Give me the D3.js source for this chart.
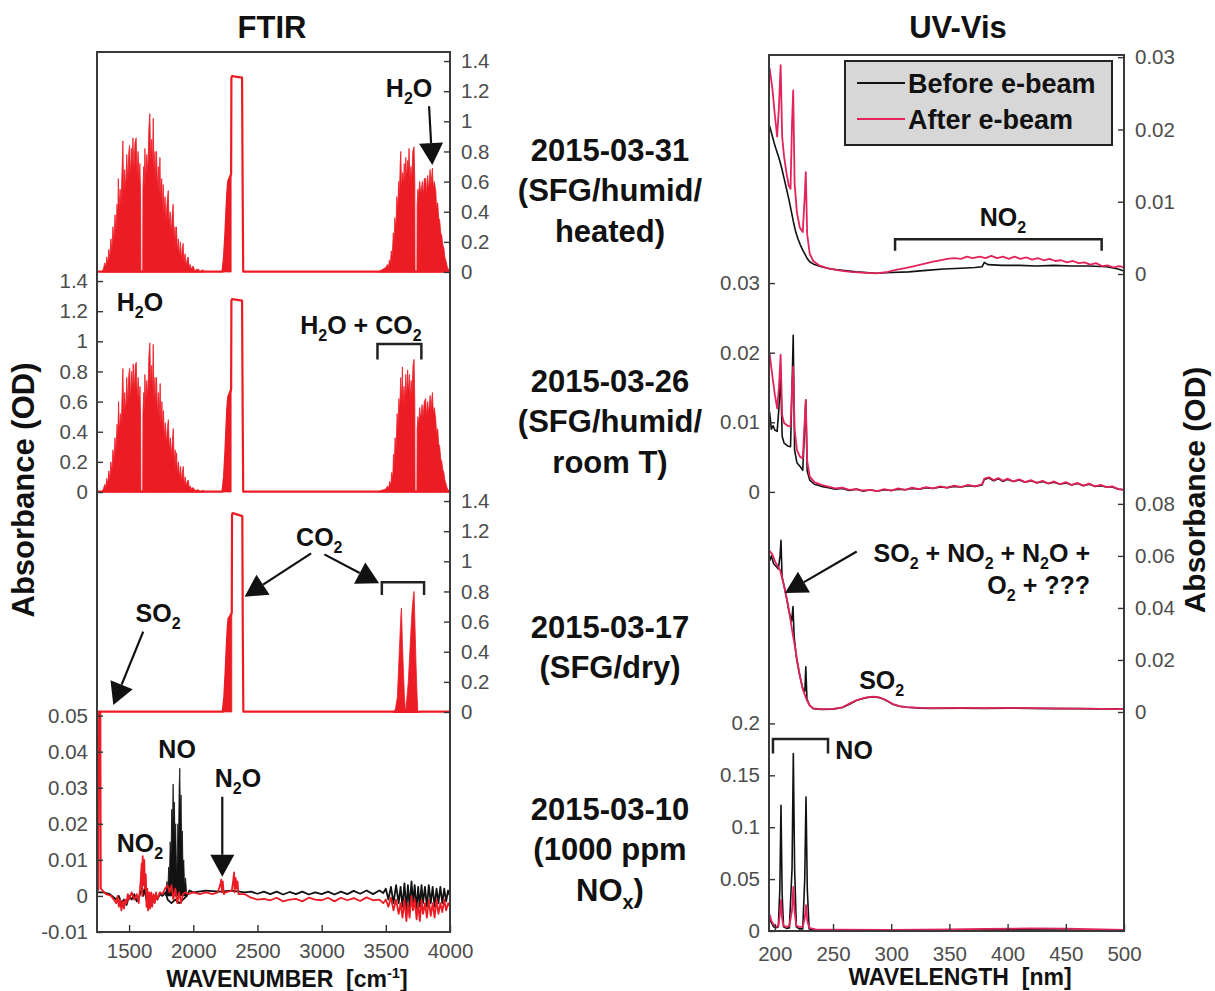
<!DOCTYPE html>
<html>
<head>
<meta charset="utf-8">
<script src="https://cdn.jsdelivr.net/npm/d3@7"></script>
<style>
  body { margin: 0; background: #fff; }
  svg text { font-family: "Liberation Sans", Arial, Helvetica, sans-serif; }
</style>
</head>
<body>
<svg id="fig" width="1215" height="991"></svg>
<script>
// ---------------- tick values ----------------
const ftirTicksX = [1500, 2000, 2500, 3000, 3500, 4000];
const ftirTicksY = [0, 0.2, 0.4, 0.6, 0.8, 1, 1.2, 1.4];
const ftirTicksYSmall = [-0.01, 0, 0.01, 0.02, 0.03, 0.04, 0.05];
const uvTicksX = [200, 250, 300, 350, 400, 450, 500];
const uvTicksY03 = [0, 0.01, 0.02, 0.03];
const uvTicksY08 = [0, 0.02, 0.04, 0.06, 0.08];
const uvTicksY20 = [0, 0.05, 0.1, 0.15, 0.2];

// ---------------- sample labels ----------------
const sampleDates = ["2015-03-31", "2015-03-26", "2015-03-17", "2015-03-10"];
const sampleConditions = [["(SFG/humid/", "heated)"], ["(SFG/humid/", "room T)"], ["(SFG/dry)"], ["(1000 ppm", "NO_x)"]];
const legendLabels = ["Before e-beam", "After e-beam"];

// ---------------- FTIR spectra: [wavenumber cm-1, absorbance OD] ----------------
// 2015-03-31 (humid, heated)
const ftir0331_h2oBend = [[1285,0],[1300,0.02],[1310,0.06],[1318,0.03],[1326,0.1],[1334,0.05],[1342,0.15],[1350,0.09],[1358,0.22],[1366,0.14],[1374,0.3],[1382,0.2],[1390,0.38],[1398,0.27],[1406,0.45],[1412,0.36],[1416,0.62],[1422,0.42],[1430,0.55],[1438,0.45],[1446,0.7],[1452,0.87],[1458,0.5],[1466,0.68],[1474,0.55],[1482,0.78],[1490,0.6],[1498,0.8],[1504,0.84],[1510,0.62],[1518,0.82],[1524,0.7],[1530,0.89],[1538,0.68],[1546,0.86],[1555,0.89],[1562,0.65],[1570,0.8],[1578,0.6],[1584,0.72],[1590,0.5],[1592,0],[1606,0],[1608,0.55],[1614,0.7],[1618,0.55],[1623,0.82],[1630,0.62],[1638,0.78],[1646,0.66],[1654,0.95],[1662,1.05],[1668,0.72],[1676,0.88],[1682,0.7],[1688,1.02],[1694,0.66],[1702,0.8],[1708,0.6],[1714,0.8],[1720,0.55],[1728,0.7],[1734,0.5],[1740,0.76],[1746,0.48],[1754,0.62],[1760,0.42],[1766,0.58],[1772,0.38],[1780,0.5],[1788,0.34],[1796,0.46],[1805,0.54],[1812,0.3],[1820,0.4],[1828,0.26],[1836,0.38],[1843,0.45],[1850,0.22],[1858,0.3],[1864,0.18],[1869,0.3],[1876,0.14],[1884,0.22],[1892,0.1],[1900,0.2],[1908,0.08],[1914,0.15],[1921,0.19],[1928,0.06],[1936,0.12],[1944,0.04],[1952,0.08],[1960,0.1],[1968,0.03],[1976,0.05],[1984,0.02],[1999,0.04],[2010,0.01],[2040,0.02],[2050,0],[2076,0.015],[2082,0]];
const ftir0331_h2oStretch = [[3440,0],[3460,0.01],[3480,0.02],[3500,0.03],[3512,0.05],[3520,0.03],[3528,0.08],[3536,0.05],[3542,0.14],[3550,0.1],[3558,0.26],[3564,0.18],[3570,0.36],[3578,0.28],[3586,0.5],[3592,0.4],[3600,0.6],[3606,0.5],[3612,0.72],[3617,0.8],[3622,0.55],[3630,0.66],[3636,0.58],[3644,0.72],[3650,0.6],[3656,0.76],[3662,0.62],[3670,0.74],[3676,0.68],[3681,0.82],[3688,0.62],[3696,0.7],[3702,0.6],[3710,0.8],[3720,0.83],[3726,0.6],[3728,0],[3742,0],[3744,0.45],[3750,0.55],[3756,0.5],[3764,0.6],[3772,0.52],[3785,0.6],[3792,0.5],[3800,0.62],[3811,0.62],[3818,0.52],[3826,0.64],[3834,0.55],[3845,0.68],[3852,0.58],[3863,0.69],[3870,0.55],[3878,0.6],[3889,0.54],[3896,0.42],[3904,0.46],[3912,0.36],[3920,0.34],[3928,0.26],[3936,0.24],[3944,0.18],[3952,0.16],[3960,0.1],[3970,0.07],[3980,0.03],[3993,0.01],[4000,0]];
const ftir0331_trace = [[1250,0.002],[2228,0.002],[2240,0.1],[2250,0.25],[2258,0.4],[2265,0.52],[2272,0.6],[2285,0.63],[2295,0.65],[2297,1.29],[2302,1.3],[2380,1.29],[2385,0.5],[2389,0.002],[4000,0.002]];

// 2015-03-26 (humid, room T)
const ftir0326_h2oBend = [[1285,0],[1300,0.02],[1310,0.05],[1318,0.03],[1326,0.09],[1334,0.05],[1342,0.14],[1350,0.08],[1358,0.2],[1366,0.13],[1374,0.28],[1382,0.2],[1390,0.36],[1398,0.26],[1406,0.45],[1412,0.35],[1418,0.6],[1424,0.4],[1432,0.52],[1440,0.44],[1447,0.7],[1452,0.82],[1458,0.5],[1466,0.66],[1474,0.52],[1482,0.76],[1490,0.58],[1498,0.78],[1505,0.82],[1512,0.6],[1520,0.8],[1526,0.68],[1532,0.85],[1540,0.66],[1548,0.84],[1556,0.86],[1563,0.62],[1571,0.76],[1579,0.58],[1585,0.7],[1590,0.48],[1592,0],[1606,0],[1608,0.52],[1614,0.66],[1618,0.52],[1623,0.78],[1630,0.6],[1638,0.74],[1646,0.62],[1654,0.9],[1662,0.99],[1668,0.7],[1676,0.84],[1682,0.66],[1688,0.98],[1694,0.62],[1702,0.76],[1708,0.56],[1714,0.76],[1720,0.52],[1728,0.66],[1734,0.48],[1742,0.72],[1748,0.46],[1756,0.6],[1762,0.4],[1768,0.54],[1774,0.36],[1782,0.46],[1790,0.32],[1798,0.42],[1806,0.48],[1813,0.28],[1821,0.36],[1829,0.24],[1837,0.34],[1844,0.42],[1851,0.2],[1859,0.28],[1865,0.16],[1870,0.26],[1877,0.12],[1885,0.2],[1893,0.09],[1901,0.17],[1909,0.07],[1915,0.13],[1922,0.17],[1929,0.05],[1937,0.1],[1945,0.04],[1953,0.07],[1961,0.08],[1969,0.03],[1977,0.04],[1985,0.02],[2000,0.03],[2012,0.01],[2040,0.015],[2052,0],[2078,0.012],[2084,0]];
const ftir0326_h2oStretch = [[3440,0],[3462,0.01],[3482,0.015],[3500,0.02],[3514,0.04],[3522,0.02],[3530,0.07],[3538,0.04],[3546,0.13],[3554,0.09],[3560,0.25],[3566,0.17],[3572,0.36],[3580,0.28],[3588,0.52],[3594,0.42],[3602,0.62],[3608,0.52],[3616,0.76],[3624,0.6],[3629,0.83],[3634,0.58],[3642,0.7],[3648,0.6],[3656,0.78],[3662,0.62],[3670,0.81],[3676,0.66],[3684,0.78],[3690,0.62],[3698,0.74],[3704,0.64],[3712,0.84],[3720,0.88],[3726,0.6],[3728,0],[3742,0],[3744,0.42],[3750,0.5],[3756,0.44],[3764,0.56],[3772,0.48],[3782,0.58],[3790,0.5],[3800,0.6],[3810,0.62],[3818,0.5],[3826,0.6],[3834,0.52],[3845,0.64],[3852,0.55],[3863,0.66],[3870,0.52],[3878,0.56],[3889,0.48],[3896,0.38],[3904,0.42],[3912,0.32],[3920,0.3],[3928,0.22],[3936,0.2],[3944,0.15],[3952,0.13],[3960,0.08],[3970,0.05],[3980,0.02],[3993,0.01],[4000,0]];
const ftir0326_trace = [[1250,0.002],[2228,0.002],[2240,0.1],[2250,0.26],[2258,0.42],[2265,0.55],[2272,0.63],[2285,0.66],[2295,0.68],[2297,1.27],[2302,1.28],[2380,1.27],[2385,0.5],[2389,0.002],[4000,0.002]];

// 2015-03-17 (dry)
const ftir0317_co2Comb = [[3560,0],[3575,0.02],[3590,0.1],[3600,0.3],[3610,0.5],[3618,0.65],[3622,0.69],[3628,0.5],[3636,0.3],[3645,0.1],[3652,0.02],[3656,0],[3660,0.05],[3675,0.2],[3690,0.45],[3705,0.68],[3716,0.78],[3720,0.8],[3728,0.55],[3736,0.3],[3744,0.1],[3750,0]];
const ftir0317_trace = [[1250,0.002],[2230,0.002],[2242,0.1],[2252,0.26],[2260,0.42],[2268,0.55],[2275,0.62],[2290,0.64],[2300,0.66],[2302,1.31],[2308,1.32],[2382,1.3],[2386,0.5],[2390,0.002],[3560,0.002],[3575,-0.006],[3750,-0.006],[3760,0.002],[4000,0.002]];

// the filled CO2 shoulder below the saturated band, per sample
const co2ShoulderRanges = [[2228, 2295], [2228, 2295], [2230, 2300]];

// 2015-03-10 (1000 ppm NOx)
const ftir0310_after = [[1250,0.001],[1262,0.002],[1266,0.06],[1276,0.06],[1280,0.002],[1320,0.0005],[1360,0],[1380,-0.001],[1400,-0.002],[1410,0],[1420,-0.003],[1430,-0.001],[1440,-0.004],[1450,-0.0015],[1460,-0.0035],[1470,-0.001],[1480,-0.002],[1490,0.0005],[1500,-0.001],[1520,0.001],[1540,-0.001],[1560,0.0005],[1575,-0.002],[1590,0.004],[1598,0.009],[1602,0],[1606,0.011],[1612,0.003],[1618,0.01],[1624,0.002],[1630,0.006],[1636,-0.003],[1642,0.002],[1648,-0.004],[1656,0.001],[1664,-0.0035],[1672,0.001],[1680,-0.003],[1690,0.0005],[1700,-0.002],[1710,0.001],[1720,-0.001],[1740,0.001],[1760,0.0005],[1780,0.002],[1800,0.003],[1815,0.001],[1830,0.003],[1845,-0.001],[1860,0.002],[1875,-0.002],[1890,0.001],[1905,-0.002],[1920,0.0005],[1940,0.001],[1960,0.0005],[2000,0.001],[2050,0.0005],[2100,0.001],[2150,0.0005],[2190,0.001],[2200,0.002],[2210,0.003],[2218,0.0045],[2224,0.001],[2230,0.004],[2238,0.0005],[2250,0.001],[2300,0.0015],[2310,0.004],[2318,0.0065],[2322,0.001],[2330,0.005],[2338,0.002],[2345,0.004],[2352,0.0005],[2400,0.0005],[2450,-0.0005],[2500,-0.001],[2550,-0.0008],[2600,-0.0012],[2650,-0.0005],[2700,-0.0015],[2750,-0.001],[2800,-0.0008],[2850,-0.0015],[2900,-0.0005],[2950,-0.001],[3000,-0.0012],[3050,-0.0005],[3100,-0.0015],[3150,-0.0005],[3200,-0.0012],[3250,-0.0006],[3300,-0.0014],[3350,-0.0004],[3400,-0.0012],[3450,-0.001],[3480,-0.002],[3500,-0.001],[3520,-0.003],[3540,-0.0005],[3560,-0.004],[3580,-0.001],[3600,-0.005],[3615,-0.002],[3630,-0.006],[3645,-0.001],[3660,-0.007],[3672,-0.002],[3685,-0.006],[3700,0],[3712,-0.004],[3725,-0.001],[3740,-0.0065],[3752,-0.002],[3765,-0.007],[3778,-0.001],[3790,-0.005],[3805,-0.002],[3820,-0.006],[3835,-0.001],[3850,-0.0055],[3865,-0.002],[3880,-0.006],[3895,-0.001],[3910,-0.005],[3925,-0.002],[3940,-0.0045],[3955,-0.001],[3970,-0.004],[3985,-0.002],[4000,-0.003]];
const ftir0310_before = [[1250,0.001],[1300,0.001],[1350,0.0005],[1400,-0.001],[1420,0],[1440,-0.002],[1460,-0.001],[1480,-0.0025],[1500,0],[1520,-0.001],[1540,0.0005],[1560,-0.0015],[1580,0],[1600,0.002],[1610,0],[1620,0.002],[1640,-0.002],[1660,0],[1680,-0.002],[1700,0],[1720,-0.001],[1740,0.0005],[1760,0],[1785,0.001],[1800,-0.001],[1830,-0.002],[1860,-0.001],[1890,-0.002],[1920,-0.001],[1950,0],[1970,0.0015],[2000,0.001],[2100,0.0015],[2200,0.0012],[2300,0.0015],[2400,0.001],[2450,0.0012],[2500,0.0006],[2550,0.0012],[2600,0.0005],[2650,0.0012],[2700,0.0004],[2750,0.0011],[2800,0.0005],[2850,0.0012],[2900,0.0004],[2950,0.001],[3000,0.0005],[3050,0.0012],[3100,0.0004],[3150,0.0012],[3200,0.0005],[3250,0.0014],[3300,0.0006],[3350,0.0015],[3400,0.0005],[3450,0.0015],[3480,0.0008],[3500,0.002],[3520,-0.001],[3540,0.0025],[3560,-0.002],[3580,0.003],[3600,-0.002],[3615,0.0025],[3630,-0.003],[3645,0.0035],[3660,-0.004],[3672,0.003],[3685,-0.003],[3700,0.004],[3712,-0.002],[3725,0.003],[3740,-0.004],[3752,0.0025],[3765,-0.003],[3778,0.003],[3790,-0.002],[3805,0.0025],[3820,-0.003],[3835,0.003],[3850,-0.002],[3865,0.0025],[3880,-0.003],[3895,0.002],[3910,-0.002],[3925,0.0025],[3940,-0.002],[3955,0.002],[3970,-0.0015],[3985,0.0015],[4000,0]];
const ftir0310_noBand = [[1785,0],[1795,0.004],[1802,0.002],[1808,0.008],[1814,0.005],[1820,0.015],[1826,0.01],[1832,0.024],[1837,0.018],[1843,0.031],[1848,0.02],[1853,0.026],[1858,0.015],[1863,0.02],[1868,0.01],[1872,0.006],[1876,0.012],[1880,0.02],[1885,0.015],[1890,0.03],[1895,0.0354],[1900,0.022],[1905,0.028],[1910,0.014],[1915,0.018],[1920,0.008],[1926,0.01],[1932,0.003],[1940,0.005],[1950,0]];

// ---------------- UV-Vis spectra: [wavelength nm, absorbance OD] ----------------
const uv0331_before = [[195.5,0.0205],[198,0.019],[200,0.0178],[202,0.0168],[204,0.0158],[206,0.0146],[208,0.0132],[210,0.0118],[212,0.0104],[214,0.0088],[216,0.0072],[218,0.0058],[220,0.0048],[222,0.004],[224,0.0033],[226,0.0027],[228,0.0021],[230,0.0017],[234,0.0013],[240,0.001],[248,0.0007],[258,0.0005],[270,0.0003],[287,0.0001],[300,0.0002],[315,0.0003],[330,0.0005],[345,0.0007],[360,0.0008],[372,0.0009],[378,0.001],[380,0.0016],[383,0.0013],[395,0.0012],[410,0.0012],[425,0.0011],[440,0.0012],[455,0.0011],[470,0.0011],[485,0.001],[495,0.0007],[500,0.0004]];
const uv0331_after = [[195.5,0.0285],[198,0.0255],[200,0.022],[202,0.019],[203.5,0.023],[205,0.0289],[206.3,0.019],[208,0.0162],[210,0.014],[212,0.0122],[213.5,0.0118],[214.8,0.021],[215.8,0.0254],[217,0.0125],[219,0.0085],[221.5,0.0064],[224,0.0058],[225.6,0.0105],[226.6,0.0141],[227.8,0.0055],[230,0.0028],[233,0.0018],[238,0.0012],[245,0.0008],[255,0.0005],[265,0.0003],[275,0.0002],[287,0.0001],[297,0.0003],[305,0.0006],[312,0.0008],[320,0.0011],[328,0.0014],[336,0.0017],[342,0.0019],[348,0.0021],[354,0.0022],[360,0.0021],[365,0.0024],[370,0.0022],[376,0.0024],[381,0.0022],[386,0.0025],[391,0.0022],[396,0.0024],[401,0.0021],[406,0.0024],[411,0.0021],[416,0.0023],[421,0.002],[426,0.0022],[431,0.0019],[436,0.0021],[441,0.0018],[446,0.0019],[451,0.0016],[456,0.0018],[461,0.0015],[466,0.0016],[471,0.0013],[476,0.0015],[481,0.0011],[486,0.0012],[491,0.0009],[496,0.0011],[500,0.0009]];
const uv0326_before = [[195.5,0.0115],[197,0.009],[198.5,0.0095],[200,0.0089],[202,0.0087],[203.5,0.012],[205,0.017],[206.3,0.008],[208,0.007],[211,0.0066],[213.5,0.0065],[214.8,0.015],[215.8,0.0225],[217,0.006],[219,0.0042],[221.5,0.0037],[224,0.0031],[225.6,0.009],[226.6,0.0132],[227.8,0.003],[230,0.0017],[234,0.0011],[240,0.0008],[246,0.0006],[252,0.0004],[258,0.0005],[264,0.0002],[270,0.0004],[276,0.0001],[282,0.0003],[288,0.0001],[294,0.0003],[300,0.0002],[306,0.0004],[312,0.0003],[318,0.0005],[324,0.0004],[330,0.0006],[336,0.0005],[342,0.0007],[348,0.0006],[354,0.0008],[360,0.0007],[366,0.0009],[372,0.0008],[378,0.001],[380,0.0018],[384,0.002],[388,0.0016],[392,0.0019],[396,0.0015],[400,0.0018],[405,0.0015],[410,0.0017],[415,0.0014],[420,0.0016],[425,0.0013],[430,0.0015],[435,0.0012],[440,0.0014],[445,0.0011],[450,0.0013],[455,0.001],[460,0.0012],[465,0.0009],[470,0.0011],[475,0.0008],[480,0.0009],[485,0.0007],[490,0.0007],[495,0.0004],[500,0.0003]];
const uv0326_after = [[195.5,0.0199],[198,0.0165],[200,0.014],[202,0.012],[203.5,0.015],[205,0.0197],[206.3,0.011],[208,0.0099],[211,0.0095],[213.5,0.0094],[214.8,0.015],[215.8,0.018],[217,0.009],[219,0.006],[221.5,0.0051],[224,0.0048],[225.6,0.01],[226.6,0.0132],[227.8,0.0045],[230,0.0022],[234,0.0014],[240,0.001],[245,0.0008],[252,0.0005],[258,0.0006],[264,0.0003],[270,0.0004],[276,0.0002],[282,0.0003],[288,0.0001],[294,0.0004],[300,0.0002],[306,0.0005],[312,0.0003],[318,0.0006],[324,0.0004],[330,0.0007],[336,0.0005],[342,0.0008],[348,0.0006],[354,0.0009],[360,0.0007],[366,0.001],[372,0.0008],[378,0.0011],[380,0.0019],[384,0.0021],[388,0.0017],[392,0.002],[396,0.0016],[400,0.0019],[405,0.0015],[410,0.0018],[415,0.0014],[420,0.0017],[425,0.0013],[430,0.0016],[435,0.0012],[440,0.0015],[445,0.0011],[450,0.0014],[455,0.001],[460,0.0013],[465,0.0009],[470,0.0012],[475,0.0008],[480,0.001],[485,0.0007],[490,0.0008],[495,0.0004],[500,0.0003]];
const uv0317_before = [[195.5,0.058],[197,0.06],[199,0.057],[201,0.056],[203,0.055],[204.5,0.06],[205.3,0.066],[206.2,0.052],[208,0.0485],[210,0.044],[212,0.039],[214.5,0.035],[215.6,0.0405],[216.6,0.029],[218.5,0.021],[221,0.015],[224,0.009],[225.8,0.008],[226.6,0.0174],[227.6,0.005],[230,0.0025],[233,0.0013],[240,0.001],[250,0.0011],[258,0.0017],[264.6,0.0031],[270,0.0044],[276,0.0052],[280,0.0056],[284.6,0.0058],[289,0.0056],[293.2,0.005],[297,0.0041],[301.8,0.0029],[307,0.0022],[313.3,0.0018],[325,0.0015],[336,0.0014],[360,0.0015],[380,0.0014],[400,0.0015],[420,0.0014],[440,0.0013],[460,0.0013],[480,0.0012],[500,0.0011]];
const uv0317_after = [[195.5,0.062],[198,0.0605],[200.2,0.0578],[202.5,0.056],[204.5,0.0546],[206.5,0.051],[208.7,0.0469],[211,0.042],[213,0.0367],[215,0.031],[217.3,0.0251],[219.5,0.019],[221.6,0.0136],[224,0.0088],[227.4,0.0046],[230,0.0025],[233,0.0014],[240,0.0011],[250,0.0012],[258,0.0018],[264.6,0.0033],[270,0.0045],[276,0.0053],[280,0.0057],[284.6,0.0059],[289,0.0057],[293.2,0.0051],[297,0.0042],[301.8,0.003],[307,0.0023],[313.3,0.0019],[325,0.0016],[336,0.0015],[360,0.0016],[380,0.0015],[400,0.0016],[420,0.0015],[440,0.0014],[460,0.0013],[480,0.0012],[500,0.0011]];
const uv0310_before = [[195.5,0.013],[197,0.008],[199,0.004],[201,0.003],[203,0.004],[204.3,0.04],[205.3,0.121],[206.3,0.035],[207.5,0.004],[210,0.0025],[212.5,0.003],[214.8,0.06],[215.9,0.171],[217,0.06],[218.5,0.004],[221,0.002],[224,0.002],[225.7,0.05],[226.8,0.129],[227.9,0.04],[229.5,0.002],[235,0.0008],[250,0.0005],[300,0.0004],[350,0.0008],[400,0.0012],[450,0.0009],[500,0.0003]];
const uv0310_after = [[195.5,0.016],[197,0.01],[199,0.006],[201,0.004],[203,0.005],[204.3,0.015],[205.3,0.03],[206.3,0.012],[207.5,0.005],[210,0.004],[212.5,0.005],[214.8,0.02],[215.9,0.0426],[217,0.018],[218.5,0.005],[221,0.004],[224,0.004],[225.7,0.012],[226.8,0.025],[227.9,0.01],[229.5,0.003],[235,0.0015],[250,0.0012],[300,0.001],[350,0.0015],[380,0.002],[420,0.0025],[450,0.0022],[480,0.0015],[500,0.001]];

// ---------------- drawing ----------------
const FTIR_RED = "#ec1c24";
const UV_RED = "#e3245c";
const INK = "#111";
const FONT = '"Liberation Sans", Arial, Helvetica, sans-serif';

const svg = d3.select("#fig");
const fmt = d => String(+d.toFixed(3));

// column geometry
const ftirX = d3.scaleLinear().domain([1250, 4000]).range([97, 450]);
const uvX = d3.scaleLinear().domain([195, 500]).range([769, 1124]);
const ftirRows = [[52, 272], [272, 492], [492, 712], [712, 932]];
const uvRows = [[55, 274], [274, 494], [494, 712], [712, 931]];
const ftirYDomains = [[0, 1.46], [0, 1.46], [0, 1.46], [-0.01, 0.051]];
const uvYDomains = [[0, 0.0303], [-0.0003, 0.0313], [0, 0.0838], [0, 0.211]];
const ftirYTicks = [ftirTicksY, ftirTicksY, ftirTicksY, ftirTicksYSmall];
const uvYTicks = [uvTicksY03, uvTicksY03, uvTicksY08, uvTicksY20];
const sides = ["right", "left", "right", "left"];

const ftirY = ftirRows.map((r, i) => d3.scaleLinear().domain(ftirYDomains[i]).range([r[1], r[0]]));
const uvY = uvRows.map((r, i) => d3.scaleLinear().domain(uvYDomains[i]).range([r[1], r[0]]));

// text with _sub and ^sup segments
function rich(sel, str, size) {
  const re = /([_^])(\{([^}]*)\}|(.))/g;
  const parts = [];
  let last = 0, m;
  while ((m = re.exec(str))) {
    if (m.index > last) parts.push({ t: str.slice(last, m.index), k: 0 });
    parts.push({ t: m[3] !== undefined ? m[3] : m[4], k: m[1] === "_" ? 1 : -1 });
    last = re.lastIndex;
  }
  if (last < str.length) parts.push({ t: str.slice(last), k: 0 });
  let cur = 0;
  parts.forEach(p => {
    const off = p.k === 1 ? size * 0.28 : p.k === -1 ? -size * 0.42 : 0;
    sel.append("tspan").attr("dy", off - cur).attr("font-size", p.k ? size * 0.64 : size).text(p.t);
    cur = off;
  });
  return sel;
}
function label(g, x, y, str, size, anchor) {
  const t = g.append("text").attr("x", x).attr("y", y + size * 0.36)
    .attr("text-anchor", anchor || "middle").attr("font-weight", "bold")
    .attr("font-size", size).attr("fill", INK);
  return rich(t, str, size);
}
function arrow(g, x1, y1, x2, y2) {
  const headLen = 22, headW = 24;
  const dx = x2 - x1, dy = y2 - y1, L = Math.hypot(dx, dy), ux = dx / L, uy = dy / L;
  const bx = x2 - ux * headLen, by = y2 - uy * headLen;
  g.append("line").attr("x1", x1).attr("y1", y1).attr("x2", bx).attr("y2", by)
    .attr("stroke", INK).attr("stroke-width", 2.2);
  g.append("path")
    .attr("d", `M${x2},${y2}L${bx - uy * headW / 2},${by + ux * headW / 2}L${bx + uy * headW / 2},${by - ux * headW / 2}Z`)
    .attr("fill", INK);
}
function bracket(g, x1, x2, yTop, yEnd) {
  g.append("path").attr("d", `M${x1},${yEnd}V${yTop}H${x2}V${yEnd}`)
    .attr("fill", "none").attr("stroke", "#222").attr("stroke-width", 2.5);
}
function styleAxis(s, size) {
  s.select(".domain").remove();
  s.selectAll(".tick line").attr("stroke", "#333").attr("stroke-width", 1.4);
  s.selectAll(".tick text").attr("fill", "#4d4d4d").attr("font-size", size).attr("font-family", FONT);
}
function yAxis(scale, side, xPos, ticks) {
  const ax = (side === "right" ? d3.axisRight(scale) : d3.axisLeft(scale))
    .tickValues(ticks).tickSize(-6).tickPadding(side === "right" ? 11 : 9).tickFormat(fmt);
  svg.append("g").attr("transform", `translate(${xPos},0)`).call(ax).call(s => styleAxis(s, 20.5));
}

// clip regions for each panel
const defs = svg.append("defs");
function clipFor(id, x0, x1, y0, y1) {
  defs.append("clipPath").attr("id", id).append("rect")
    .attr("x", x0).attr("y", y0).attr("width", x1 - x0).attr("height", y1 - y0);
  return `url(#${id})`;
}

// ---- FTIR column ----
const ftirSpectra = [
  { bands: [ftir0331_h2oBend, ftir0331_h2oStretch], trace: ftir0331_trace },
  { bands: [ftir0326_h2oBend, ftir0326_h2oStretch], trace: ftir0326_trace },
  { bands: [ftir0317_co2Comb], trace: ftir0317_trace },
];

ftirRows.forEach((r, i) => {
  const y = ftirY[i];
  const g = svg.append("g").attr("clip-path", clipFor("cf" + i, 97, 450, r[0], r[1] + 1));
  const area = d3.area().x(d => ftirX(d[0])).y0(y(0)).y1(d => y(d[1]));
  const line = d3.line().x(d => ftirX(d[0])).y(d => y(d[1]));
  if (i < 3) {
    const s = ftirSpectra[i];
    const rng = co2ShoulderRanges[i];
    const shoulder = s.trace.filter(d => d[0] >= rng[0] && d[0] <= rng[1]);
    [...s.bands, shoulder].forEach(b => {
      g.append("path").attr("d", area(b)).attr("fill", FTIR_RED)
        .attr("stroke", FTIR_RED).attr("stroke-width", 0.8).attr("stroke-linejoin", "round");
    });
    g.append("path").attr("d", line(s.trace)).attr("fill", "none")
      .attr("stroke", FTIR_RED).attr("stroke-width", 2.2).attr("stroke-linejoin", "round");
  } else {
    g.append("path").attr("d", area(ftir0310_noBand)).attr("fill", "#111")
      .attr("stroke", "#111").attr("stroke-width", 0.8);
    g.append("path").attr("d", line(ftir0310_before)).attr("fill", "none")
      .attr("stroke", "#111").attr("stroke-width", 1.8).attr("stroke-linejoin", "round");
    g.append("path").attr("d", line(ftir0310_after)).attr("fill", "none")
      .attr("stroke", FTIR_RED).attr("stroke-width", 1.8).attr("stroke-linejoin", "round");
  }
  yAxis(y, sides[i], sides[i] === "right" ? 450 : 97, ftirYTicks[i]);
});

// ---- UV-Vis column ----
const uvSpectra = [
  [uv0331_before, uv0331_after],
  [uv0326_before, uv0326_after],
  [uv0317_before, uv0317_after],
  [uv0310_before, uv0310_after],
];
uvRows.forEach((r, i) => {
  const y = uvY[i];
  const g = svg.append("g").attr("clip-path", clipFor("cu" + i, 769, 1124, r[0], r[1] + 1));
  const line = d3.line().x(d => uvX(d[0])).y(d => y(d[1]));
  g.append("path").attr("d", line(uvSpectra[i][0])).attr("fill", "none")
    .attr("stroke", "#111").attr("stroke-width", 1.6).attr("stroke-linejoin", "round");
  g.append("path").attr("d", line(uvSpectra[i][1])).attr("fill", "none")
    .attr("stroke", UV_RED).attr("stroke-width", 1.8).attr("stroke-linejoin", "round");
  yAxis(y, sides[i], sides[i] === "right" ? 1124 : 769, uvYTicks[i]);
});

// x axes
svg.append("g").attr("transform", "translate(0,932)")
  .call(d3.axisBottom(ftirX).tickValues(ftirTicksX).tickSize(-7).tickPadding(11).tickFormat(d3.format("d")))
  .call(s => styleAxis(s, 20.5));
svg.append("g").attr("transform", "translate(0,931)")
  .call(d3.axisBottom(uvX).tickValues(uvTicksX).tickSize(-7).tickPadding(15).tickFormat(d3.format("d")))
  .call(s => styleAxis(s, 20.5));

// frames
svg.append("rect").attr("x", 97).attr("y", 52).attr("width", 353).attr("height", 880)
  .attr("fill", "none").attr("stroke", "#3a3a3a").attr("stroke-width", 2);
svg.append("rect").attr("x", 769).attr("y", 55).attr("width", 355).attr("height", 876)
  .attr("fill", "none").attr("stroke", "#3a3a3a").attr("stroke-width", 2);

// titles and axis titles
const ann = svg.append("g");
label(ann, 272, 27, "FTIR", 31);
label(ann, 958, 27, "UV-Vis", 31);
label(ann, 287, 979, "WAVENUMBER  [cm^{-1}]", 23).attr("xml:space", "preserve");
label(ann, 960, 977, "WAVELENGTH  [nm]", 23).attr("xml:space", "preserve");
ann.append("text").attr("transform", "translate(34,490) rotate(-90)").attr("text-anchor", "middle")
  .attr("font-weight", "bold").attr("font-size", 31).attr("fill", INK).text("Absorbance (OD)");
ann.append("text").attr("transform", "translate(1205,490) rotate(-90)").attr("text-anchor", "middle")
  .attr("font-weight", "bold").attr("font-size", 30).attr("fill", INK).text("Absorbance (OD)");

// sample labels between the columns
const rowCenters = [190, 421, 647, 849];
sampleDates.forEach((d, i) => {
  const lines = [d, ...sampleConditions[i]];
  lines.forEach((t, j) => {
    label(ann, 610, rowCenters[i] + (j - (lines.length - 1) / 2) * 40.5, t, 31);
  });
});

// legend
const lg = svg.append("g");
lg.append("rect").attr("x", 845).attr("y", 61).attr("width", 267).attr("height", 84)
  .attr("fill", "#d7d7d7").attr("stroke", "#222").attr("stroke-width", 2);
[["#111", 83], [UV_RED, 119]].forEach((c, k) => {
  lg.append("line").attr("x1", 857).attr("x2", 905).attr("y1", c[1]).attr("y2", c[1])
    .attr("stroke", c[0]).attr("stroke-width", 2);
  label(lg, 908, c[1], legendLabels[k], 27, "start");
});

// FTIR annotations
{
  const y0 = ftirY[0], y1 = ftirY[1], y2 = ftirY[2], y3 = ftirY[3], x = ftirX;
  label(ann, x(3681), y0(1.22), "H_2O", 25);
  arrow(ann, x(3837), y0(1.1), x(3862), y0(0.71));

  label(ann, x(1584), y1(1.263), "H_2O", 25);
  label(ann, x(3306), y1(1.108), "H_2O + CO_2", 25);
  bracket(ann, x(3435), x(3777), y1(0.982), y1(0.88));

  label(ann, x(2982), y2(1.163), "CO_2", 25);
  arrow(ann, x(2918), y2(1.053), x(2400), y2(0.765));
  arrow(ann, x(3021), y2(1.046), x(3448), y2(0.854));
  bracket(ann, x(3469), x(3798), y2(0.861), y2(0.776));
  label(ann, x(1726), y2(0.655), "SO_2", 25);
  arrow(ann, x(1610), y2(0.533), x(1377), y2(0.046));

  label(ann, x(1874), y3(0.0407), "NO", 25);
  label(ann, x(1584), y3(0.0146), "NO_2", 25);
  label(ann, x(2348), y3(0.0326), "N_2O", 25);
  arrow(ann, x(2226), y3(0.0275), x(2226), y3(0.0053));
}

// UV-Vis annotations
{
  const x = uvX;
  bracket(ann, x(303.3), x(480.8), uvY[0](0.0048), uvY[0](0.0032));
  label(ann, x(396), uvY[0](0.0079), "NO_2", 25);

  label(ann, x(470.8), uvY[2](0.0612), "SO_2 + NO_2 + N_2O +", 25, "end");
  label(ann, x(470.8), uvY[2](0.0488), "O_2 + ???", 25, "end");
  arrow(ann, x(270.4), uvY[2](0.0617), x(208.7), uvY[2](0.0457));
  label(ann, x(291.8), uvY[2](0.0123), "SO_2", 25);

  bracket(ann, x(198.4), x(245.7), uvY[3](0.185), uvY[3](0.171));
  label(ann, x(252), uvY[3](0.174), "NO", 25, "start");
}
</script>
</body>
</html>
